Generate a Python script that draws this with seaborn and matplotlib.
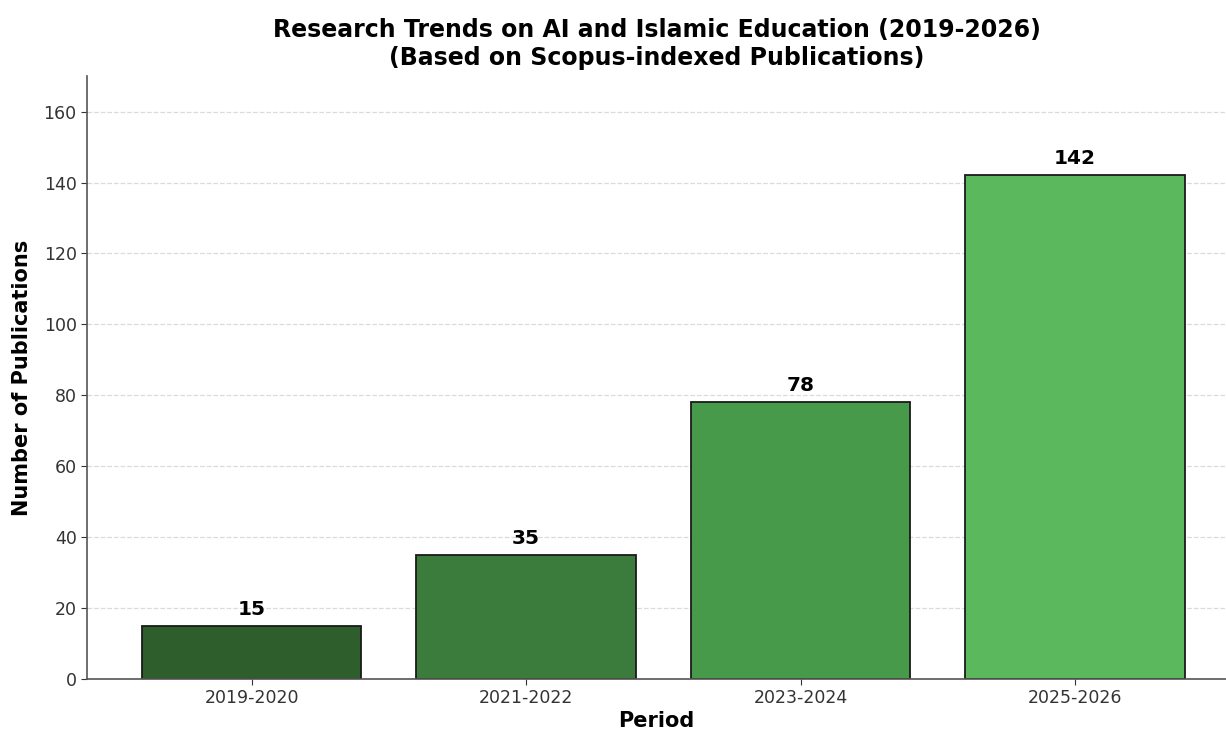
import matplotlib
matplotlib.use('Agg')
import matplotlib.pyplot as plt
import seaborn as sns
import pandas as pd

# data
periods = ['2019-2020', '2021-2022', '2023-2024', '2025-2026']
publications = [15, 35, 78, 142]
bar_colors = ['#2d5e2c', '#3b7c3c', '#489a4b', '#5cb85c']

df = pd.DataFrame({'Period': periods, 'Publications': publications})

sns.set_style('white')
plt.rcParams['font.family'] = ['DejaVu Sans']
plt.rcParams['text.color'] = 'black'
plt.rcParams['axes.labelcolor'] = 'black'

fig = plt.figure(figsize=(12.26, 7.33), dpi=100)
ax = fig.add_axes([0.071, 0.074, 0.929, 0.822])

sns.barplot(data=df, x='Period', y='Publications', hue='Period', palette=bar_colors,
            legend=False, width=0.8, edgecolor='#1a1a1a', linewidth=1.3, saturation=1, ax=ax)

# value labels
for i, v in enumerate(publications):
    ax.text(i, v + 2, str(v), ha='center', va='bottom', fontsize=14.5, fontweight='bold', color='black')

ax.set_ylim(0, 170)
ax.set_xlim(-0.6, 3.55)
ax.set_yticks(range(0, 161, 20))
ax.grid(axis='y', linestyle='--', color='#cccccc', alpha=0.7, linewidth=0.9)
ax.set_axisbelow(True)
sns.despine(ax=ax)
for s in ['left', 'bottom']:
    ax.spines[s].set_color('#555555')
    ax.spines[s].set_linewidth(1.2)
ax.tick_params(axis='both', labelsize=12.5, colors='#333333', left=True, bottom=True, length=4)

ax.set_title('Research Trends on AI and Islamic Education (2019-2026)\n(Based on Scopus-indexed Publications)',
             fontsize=17, fontweight='bold', pad=8, color='black')
ax.set_xlabel('Period', fontsize=15, fontweight='bold', labelpad=3)
ax.set_ylabel('Number of Publications', fontsize=15, fontweight='bold', labelpad=8)

plt.savefig('out.png', dpi=100)
